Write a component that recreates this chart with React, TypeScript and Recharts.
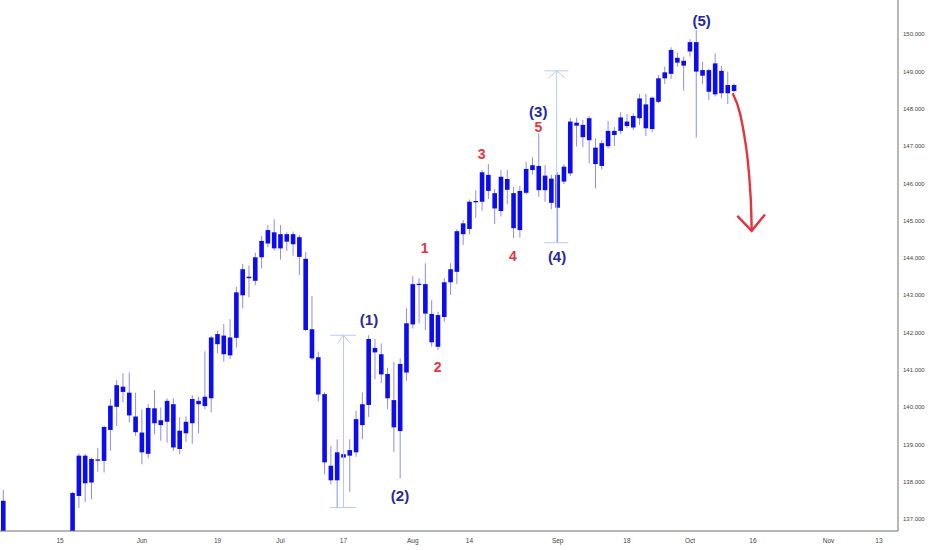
import React from 'react';
import { ComposedChart, Bar, Line, XAxis, YAxis, ReferenceLine, ReferenceDot } from 'recharts';

// trading-day index (0 = May 2) and OHLC values
const dayIndex = [0, 11, 12, 13, 14, 15, 16, 17, 18, 19, 20, 21, 22, 23, 24, 25, 26, 27, 28, 29, 30, 31, 32, 33, 34, 35, 36, 37, 38, 39, 40, 41, 42, 43, 44, 45, 46, 47, 48, 49, 50, 51, 52, 53, 54, 55, 56, 57, 58, 59, 60, 61, 62, 63, 64, 65, 66, 67, 68, 69, 70, 71, 72, 73, 74, 75, 76, 77, 78, 79, 80, 81, 82, 83, 84, 85, 86, 87, 88, 89, 90, 91, 92, 93, 94, 95, 96, 97, 98, 99, 100, 101, 102, 103, 104, 105, 106, 107, 108, 109, 110, 111, 112, 113, 114, 115, 116];
const openValues = [136.45, 136.6, 137.62, 138.7, 137.98, 138.6, 138.56, 139.39, 140.01, 140.55, 140.39, 139.75, 139.32, 138.75, 139.97, 139.65, 139.61, 140.08, 138.88, 139.3, 139.57, 140.17, 140.03, 140.24, 141.96, 141.92, 141.39, 141.86, 143.0, 143.46, 143.39, 144.02, 144.39, 144.69, 144.26, 144.64, 144.37, 144.56, 143.98, 142.09, 141.34, 140.35, 138.43, 138.04, 138.74, 138.7, 138.79, 139.52, 140.06, 141.59, 141.42, 140.89, 140.19, 139.36, 140.93, 142.22, 143.29, 143.3, 142.5, 141.62, 142.42, 143.35, 143.63, 144.64, 144.78, 145.51, 145.51, 146.23, 145.74, 145.26, 146.12, 145.74, 144.75, 145.75, 146.36, 146.47, 146.21, 146.13, 145.35, 146.05, 146.27, 147.63, 147.57, 147.16, 146.96, 146.47, 147.0, 147.41, 147.41, 147.66, 147.5, 147.75, 148.12, 147.46, 148.19, 148.82, 148.94, 149.37, 149.29, 149.54, 149.79, 149.04, 149.04, 148.39, 149.02, 148.42, 148.64];
const highValues = [137.78, 137.72, 138.76, 138.75, 138.65, 138.91, 139.5, 140.22, 140.73, 140.91, 140.93, 140.39, 139.94, 140.08, 140.46, 139.99, 140.24, 140.24, 139.73, 139.75, 140.32, 140.28, 141.5, 141.91, 142.05, 142.23, 142.36, 143.23, 143.84, 143.8, 144.14, 144.59, 144.88, 145.04, 144.88, 144.69, 144.71, 144.62, 144.16, 142.98, 141.49, 140.4, 138.96, 139.14, 139.41, 139.14, 139.91, 140.4, 141.93, 141.83, 141.71, 141.06, 141.22, 141.31, 142.65, 143.52, 143.46, 143.86, 142.87, 142.56, 143.46, 143.86, 144.77, 145.02, 145.57, 145.82, 146.36, 146.52, 145.85, 146.36, 146.36, 145.91, 145.94, 146.58, 146.7, 147.34, 146.49, 146.23, 146.3, 146.52, 147.76, 147.76, 147.7, 147.81, 147.21, 147.16, 147.68, 147.52, 147.91, 147.86, 147.88, 148.4, 148.4, 148.33, 148.91, 149.13, 149.65, 149.51, 149.4, 149.87, 150.12, 149.27, 149.08, 149.49, 149.15, 149.0, 148.68];
const lowValues = [136.3, 136.45, 137.3, 137.45, 137.53, 138.27, 138.25, 138.83, 139.5, 140.13, 139.59, 139.23, 138.47, 138.63, 139.27, 139.1, 139.05, 138.83, 138.74, 139.07, 139.02, 139.3, 139.95, 139.86, 141.44, 141.22, 141.29, 141.6, 142.65, 142.95, 143.27, 143.72, 144.29, 144.2, 143.96, 144.19, 144.06, 143.54, 142.04, 141.26, 140.16, 138.2, 137.93, 137.29, 138.03, 137.73, 138.67, 139.14, 139.74, 140.75, 140.65, 139.94, 138.8, 138.09, 140.71, 142.11, 142.25, 142.07, 141.62, 141.53, 142.29, 143.01, 143.3, 144.35, 144.64, 145.08, 145.27, 145.58, 144.91, 145.11, 145.45, 144.53, 144.55, 145.71, 146.24, 145.64, 145.51, 145.31, 144.41, 145.98, 146.2, 146.99, 146.97, 146.54, 145.87, 146.38, 146.94, 147.0, 147.33, 147.48, 147.43, 147.57, 147.27, 147.37, 148.15, 148.67, 148.8, 149.13, 148.49, 149.4, 147.23, 148.67, 148.24, 148.33, 148.28, 148.13, 148.45];
const closeValues = [137.49, 137.7, 138.7, 137.96, 138.61, 138.58, 139.47, 140.04, 140.59, 140.41, 139.78, 139.33, 138.79, 139.98, 139.57, 139.52, 140.17, 138.92, 139.37, 139.61, 140.22, 140.08, 140.28, 141.87, 141.69, 141.42, 141.87, 143.08, 143.7, 143.5, 144.02, 144.46, 144.75, 144.26, 144.64, 144.44, 144.64, 144.03, 142.07, 141.31, 140.34, 138.52, 138.04, 138.79, 138.65, 138.85, 139.68, 140.08, 141.83, 141.47, 140.88, 140.24, 139.46, 141.16, 142.25, 143.3, 143.31, 142.51, 141.74, 142.47, 143.35, 143.7, 144.72, 144.93, 145.51, 145.53, 146.3, 145.8, 145.33, 146.18, 145.83, 144.8, 145.8, 146.39, 146.49, 145.82, 145.82, 145.48, 146.23, 146.45, 147.66, 147.55, 147.24, 147.75, 146.52, 147.08, 147.41, 147.3, 147.77, 147.54, 147.81, 148.28, 147.48, 148.3, 148.82, 148.98, 149.58, 149.24, 149.16, 149.79, 149.0, 148.89, 148.46, 149.22, 148.42, 148.64, 148.48];

// x-axis ticks
const tickIndex = [9, 22, 34, 44, 54, 65, 74, 88, 99, 109, 119, 131, 139];
const tickLabels = ['15', 'Jun', '19', 'Jul', '17', 'Aug', '14', 'Sep', '18', 'Oct', '16', 'Nov', '13'];
const priceTicks = [137, 138, 139, 140, 141, 142, 143, 144, 145, 146, 147, 148, 149, 150];

// wave labels
const waveText = ['(1)', '(2)', '(3)', '(4)', '(5)', '1', '2', '3', '4', '5'];
const waveIndex = [58.05, 62.97, 84.92, 87.9, 110.86, 66.9, 68.95, 75.93, 80.9, 84.92];
const wavePrice = [142.36, 137.64, 147.92, 144.05, 150.36, 144.26, 141.08, 146.79, 144.06, 147.52];
const waveMajor = [true, true, true, true, true, false, false, false, false, false];

// projected red arrow
const arrowIndex = [115.78, 116.94, 117.57, 118.16, 118.52, 118.73, 118.79];
const arrowPrice = [148.42, 147.88, 147.34, 146.63, 145.91, 145.2, 144.75];
const arrowHeadIndex = [116.51, 118.79, 120.9];
const arrowHeadPrice = [145.13, 144.73, 145.17];

// measuring ranges
const rangeIndex = [54.0, 87.84];
const rangeCapFrom = [51.9, 85.87];
const rangeCapTo = [56.0, 89.68];
const rangeLow = [137.31, 144.41];
const rangeHigh = [141.93, 149.02];
const rangeArmLeft = [53.08, 86.62];
const rangeArmRight = [55.03, 89.16];
const rangeArmPrice = [141.72, 148.83];

const candles = dayIndex.map((i, k) => ({
  i,
  o: openValues[k],
  h: highValues[k],
  l: lowValues[k],
  c: closeValues[k],
}));
const arrowCurve = arrowIndex.map((i, k) => ({ i, p: arrowPrice[k] }));
const arrowHead = arrowHeadIndex.map((i, k) => ({ i, p: arrowHeadPrice[k] }));

const BODY = '#0c0cef';
const WICK = '#8d8de8';
const RANGE = '#b9cbf3';
const BLUE_LABEL = '#2727a5';
const RED = '#e5343f';
const AXIS = '#707070';
const BODY_W = 4.6;

const Candle = (props: any) => {
  const { x, y, width, height, payload } = props;
  if (!payload || x == null || y == null) return null;
  const { o, h, l, c } = payload;
  const top = Math.min(y, y + height);
  const bot = Math.max(y, y + height);
  const span = h - l || 1;
  const py = (v: number) => top + ((h - v) / span) * (bot - top);
  const cx = x + (width || 0) / 2;
  const bTop = py(Math.max(o, c));
  const bBot = py(Math.min(o, c));
  return (
    <g>
      <line x1={cx} x2={cx} y1={top} y2={bot} stroke={WICK} strokeWidth={1} />
      <rect x={cx - BODY_W / 2} y={bTop} width={BODY_W} height={Math.max(1.3, bBot - bTop)} fill={BODY} />
    </g>
  );
};

export default function App() {
  return (
    <div style={{ position: 'absolute', left: 0, top: 0, width: 932, height: 550, background: '#ffffff', fontFamily: '"Liberation Sans", Arial, sans-serif' }}>
      <ComposedChart width={932} height={550} data={candles} margin={{ top: 0, right: 0, bottom: 0, left: 0 }}>
        <XAxis
          dataKey="i"
          type="number"
          domain={[-0.524, 142.02]}
          allowDataOverflow
          ticks={tickIndex}
          tickFormatter={(v: number) => tickLabels[tickIndex.indexOf(v)] ?? ''}
          height={19}
          tickLine={false}
          tickSize={0}
          tickMargin={7}
          axisLine={{ stroke: AXIS }}
          tick={{ fontSize: 6.5, fill: '#444' }}
          interval={0}
        />
        <YAxis
          orientation="right"
          type="number"
          domain={[136.68, 150.92]}
          allowDataOverflow
          ticks={priceTicks}
          tickFormatter={(v: number) => v.toFixed(3)}
          width={34}
          tickLine={false}
          tickSize={0}
          tickMargin={5}
          axisLine={{ stroke: AXIS }}
          tick={{ fontSize: 6, fill: '#444', textAnchor: 'start' }}
          interval={0}
        />
        {rangeIndex.map((ri, k) => (
          <ReferenceLine key={'rv' + k} segment={[{ x: ri, y: rangeLow[k] }, { x: ri, y: rangeHigh[k] }]} stroke={RANGE} strokeWidth={1} />
        ))}
        {rangeIndex.map((ri, k) => (
          <ReferenceLine key={'rt' + k} segment={[{ x: rangeCapFrom[k], y: rangeHigh[k] }, { x: rangeCapTo[k], y: rangeHigh[k] }]} stroke={RANGE} strokeWidth={1} />
        ))}
        {rangeIndex.map((ri, k) => (
          <ReferenceLine key={'rb' + k} segment={[{ x: rangeCapFrom[k], y: rangeLow[k] }, { x: rangeCapTo[k], y: rangeLow[k] }]} stroke={RANGE} strokeWidth={1} />
        ))}
        {rangeIndex.map((ri, k) => (
          <ReferenceLine key={'ral' + k} segment={[{ x: rangeArmLeft[k], y: rangeArmPrice[k] }, { x: ri, y: rangeHigh[k] }]} stroke={RANGE} strokeWidth={1} />
        ))}
        {rangeIndex.map((ri, k) => (
          <ReferenceLine key={'rar' + k} segment={[{ x: rangeArmRight[k], y: rangeArmPrice[k] }, { x: ri, y: rangeHigh[k] }]} stroke={RANGE} strokeWidth={1} />
        ))}
        <Bar
          dataKey={(d: any) => [d.l, d.h]}
          barSize={4.6}
          shape={<Candle />}
          isAnimationActive={false}
        />
        <Line data={arrowCurve} dataKey="p" type="monotone" stroke={RED} strokeWidth={2.4} dot={false} activeDot={false} isAnimationActive={false} />
        <Line data={arrowHead} dataKey="p" type="linear" stroke={RED} strokeWidth={2.4} dot={false} activeDot={false} isAnimationActive={false} />
        {waveText.map((t, k) => (
          <ReferenceDot
            key={'w' + k}
            x={waveIndex[k]}
            y={wavePrice[k]}
            r={0}
            fill="none"
            stroke="none"
            label={{
              value: t,
              position: 'center',
              fill: waveMajor[k] ? BLUE_LABEL : RED,
              fontSize: waveMajor[k] ? 15 : 14,
              fontWeight: 700,
            }}
          />
        ))}
      </ComposedChart>
    </div>
  );
}
